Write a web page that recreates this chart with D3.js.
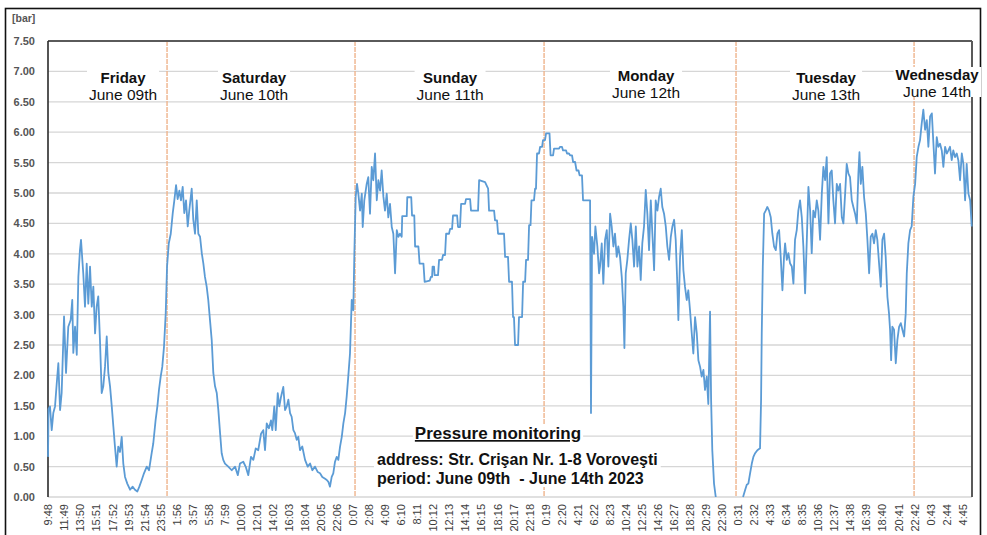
<!DOCTYPE html>
<html>
<head>
<meta charset="utf-8">
<script src="https://cdn.jsdelivr.net/npm/d3@7"></script>
<style>
  body { margin: 0; background: #fff; }
  svg { display: block; }
  text { font-family: "Liberation Sans", Arial, sans-serif; }
</style>
</head>
<body>
<svg id="chart" width="987" height="535"></svg>
<script>
// Time-axis labels, one every 121 minutes starting 9:48 on June 9th
const timeLabels = [
  "9:48","11:49","13:50","15:51","17:52","19:53","21:54","23:55","1:56","3:57",
  "5:58","7:59","10:00","12:01","14:02","16:03","18:04","20:05","22:06","0:07",
  "2:08","4:09","6:10","8:11","10:12","12:13","14:14","16:15","18:16","20:17",
  "22:18","0:19","2:20","4:21","6:22","8:23","10:24","12:25","14:26","16:27",
  "18:28","20:29","22:30","0:31","2:32","4:33","6:34","8:35","10:36","12:37",
  "14:38","16:39","18:40","20:41","22:42","0:43","2:44","4:45"
];
const labelStepMin = 121;
const spanMin = 6970;

// Pressure readings: [minutes since 9:48 June 9th, pressure in bar]; null = no reading
const readings = [
  [0,0.66],[4,1.45],[15,1.49],[28,1.10],[40,1.38],[53,1.49],[66,1.87],[78,2.20],[91,1.43],[103,1.71],
  [121,2.97],[136,2.04],[153,2.80],[171,2.91],[183,3.24],[191,2.37],[204,2.80],[217,2.34],[229,3.62],[241,4.06],
  [249,4.23],[259,3.90],[266,3.68],[279,3.13],[292,3.84],[304,3.18],[317,3.79],[330,3.13],[342,3.46],[355,2.69],
  [367,3.13],[379,3.30],[392,2.58],[405,1.71],[417,1.82],[430,2.14],[443,2.64],[455,2.04],[468,1.82],[481,1.49],
  [493,1.16],[505,0.83],[518,0.50],[530,0.83],[543,0.74],[556,0.99],[568,0.55],[581,0.33],[598,0.22],[619,0.12],
  [639,0.17],[656,0.12],[674,0.09],[689,0.17],[707,0.28],[724,0.39],[745,0.50],[762,0.44],[782,0.72],[794,0.88],
  [812,1.27],[825,1.49],[837,1.76],[850,1.98],[862,2.14],[875,2.47],[888,3.02],[898,3.79],[911,4.17],[926,4.33],
  [941,4.67],[953,4.88],[966,5.13],[978,4.90],[991,5.04],[1003,4.88],[1016,5.10],[1028,4.67],[1041,4.88],[1054,4.45],
  [1066,4.72],[1084,5.07],[1096,4.56],[1109,4.33],[1122,4.88],[1134,4.33],[1147,4.28],[1160,4.01],[1172,3.84],[1184,3.62],
  [1197,3.46],[1209,3.24],[1222,2.91],[1235,2.58],[1247,2.04],[1260,1.82],[1273,1.71],[1285,1.43],[1298,1.05],[1310,0.72],
  [1322,0.61],[1335,0.55],[1360,0.50],[1386,0.44],[1411,0.50],[1432,0.36],[1448,0.55],[1473,0.58],[1491,0.50],[1511,0.36],
  [1531,0.66],[1549,0.61],[1567,0.80],[1586,0.77],[1607,1.04],[1624,1.10],[1637,0.77],[1650,1.21],[1667,1.13],[1682,1.26],
  [1692,1.10],[1707,1.49],[1718,1.10],[1733,1.71],[1745,1.49],[1758,1.65],[1775,1.81],[1788,1.43],[1801,1.49],[1813,1.60],
  [1826,1.38],[1838,1.32],[1851,1.10],[1863,1.05],[1876,0.94],[1888,0.99],[1901,0.77],[1918,0.83],[1939,0.61],[1959,0.50],
  [1977,0.55],[1994,0.44],[2014,0.50],[2035,0.41],[2052,0.39],[2069,0.33],[2090,0.30],[2103,0.28],[2115,0.25],[2127,0.17],
  [2140,0.33],[2152,0.39],[2165,0.58],[2178,0.66],[2190,0.61],[2203,0.83],[2216,0.99],[2228,1.21],[2241,1.38],[2253,1.65],
  [2265,1.98],[2278,2.36],[2291,3.24],[2303,3.07],[2311,4.01],[2321,4.94],[2331,5.15],[2341,4.99],[2354,4.71],[2367,4.99],
  [2374,4.44],[2386,4.88],[2404,5.15],[2416,5.26],[2429,4.66],[2442,5.43],[2454,5.21],[2467,5.65],[2480,4.88],[2492,5.21],
  [2505,5.04],[2517,5.37],[2530,4.94],[2542,4.71],[2555,4.99],[2567,4.60],[2580,4.82],[2593,4.44],[2605,4.33],[2618,3.68],
  [2631,4.39],[2643,4.28],[2655,4.33],[2668,4.28],[2672,4.62],[2706,4.62],[2710,4.93],[2740,4.93],[2746,4.63],[2763,4.63],
  [2769,4.12],[2794,4.12],[2803,3.84],[2832,3.84],[2841,3.54],[2880,3.56],[2888,3.62],[2897,3.62],[2901,3.79],[2912,3.79],
  [2916,3.65],[2942,3.65],[2950,3.90],[2972,3.90],[2980,3.98],[2995,3.98],[3003,4.33],[3025,4.33],[3033,4.41],[3048,4.41],
  [3055,4.63],[3086,4.63],[3093,4.44],[3108,4.44],[3116,4.82],[3146,4.82],[3153,4.90],[3184,4.90],[3191,4.71],[3244,4.71],
  [3252,5.21],[3297,5.18],[3320,5.07],[3327,4.71],[3365,4.71],[3372,4.55],[3387,4.55],[3395,4.33],[3440,4.33],[3448,3.95],
  [3470,3.95],[3478,3.54],[3500,3.54],[3508,2.96],[3515,2.96],[3523,2.50],[3546,2.50],[3553,2.96],[3576,2.96],[3584,3.54],
  [3599,3.54],[3606,3.90],[3621,3.90],[3629,4.47],[3640,4.47],[3647,4.88],[3666,4.88],[3674,5.07],[3681,5.07],[3689,5.65],
  [3704,5.65],[3712,5.76],[3727,5.76],[3734,5.87],[3749,5.87],[3757,5.98],[3783,5.98],[3791,5.62],[3810,5.62],[3817,5.73],
  [3855,5.73],[3862,5.76],[3877,5.76],[3885,5.70],[3908,5.70],[3915,5.65],[3930,5.65],[3938,5.62],[3953,5.62],[3961,5.51],
  [3976,5.51],[3987,5.37],[4002,5.37],[4010,5.29],[4028,5.29],[4036,4.88],[4089,4.88],[4096,1.38],[4104,4.28],[4119,4.00],
  [4129,4.45],[4144,4.12],[4157,3.68],[4164,3.79],[4177,4.17],[4189,3.51],[4202,4.23],[4215,4.39],[4227,3.79],[4240,4.66],
  [4252,4.45],[4265,4.12],[4277,4.33],[4290,3.95],[4302,4.12],[4315,3.95],[4328,3.62],[4340,3.13],[4348,2.45],[4358,3.68],
  [4370,3.90],[4383,4.23],[4396,4.50],[4408,4.23],[4421,3.79],[4434,4.45],[4446,3.79],[4459,4.12],[4471,3.57],[4483,4.17],
  [4496,4.45],[4509,5.05],[4521,4.66],[4534,4.06],[4547,4.88],[4559,4.33],[4572,3.73],[4584,4.88],[4597,4.71],[4609,4.93],
  [4622,5.07],[4634,4.77],[4647,4.66],[4660,4.45],[4672,4.12],[4685,3.90],[4698,4.28],[4710,4.45],[4723,4.56],[4735,4.23],
  [4747,3.51],[4755,2.91],[4768,3.95],[4781,4.39],[4793,3.73],[4805,3.46],[4818,3.24],[4830,3.40],[4843,3.07],[4856,2.69],
  [4868,2.36],[4881,2.96],[4894,2.69],[4906,2.25],[4919,2.14],[4931,1.98],[4944,2.09],[4956,1.76],[4969,1.98],[4981,1.53],
  [4994,3.05],[5002,1.60],[5011,0.77],[5024,0.22],[5037,0.00],[5140,null],[5243,0.00],[5258,0.11],[5271,0.20],[5283,0.22],
  [5296,0.39],[5309,0.55],[5321,0.66],[5334,0.72],[5351,0.77],[5371,0.80],[5379,1.60],[5384,2.69],[5392,3.79],[5402,4.66],
  [5414,4.71],[5426,4.77],[5439,4.71],[5452,4.60],[5464,4.33],[5477,4.12],[5490,4.06],[5502,4.33],[5515,4.39],[5527,3.95],
  [5540,3.40],[5552,3.95],[5560,4.17],[5573,3.90],[5585,4.01],[5598,3.84],[5611,3.79],[5623,3.51],[5635,4.23],[5648,4.39],
  [5660,4.71],[5673,4.88],[5686,4.60],[5698,4.12],[5711,3.35],[5724,4.23],[5736,5.10],[5749,4.71],[5761,4.01],[5773,4.71],
  [5786,4.60],[5799,4.88],[5811,4.71],[5824,4.23],[5837,4.99],[5849,5.43],[5862,5.21],[5874,5.59],[5887,4.50],[5899,5.32],
  [5912,5.37],[5924,4.88],[5937,4.50],[5950,5.15],[5962,5.04],[5975,5.15],[5988,4.60],[6000,4.50],[6013,4.99],[6025,5.48],
  [6038,5.32],[6050,5.26],[6063,4.88],[6075,4.77],[6088,4.66],[6101,4.50],[6113,5.32],[6121,5.67],[6131,5.15],[6143,5.43],
  [6156,4.93],[6169,4.66],[6181,4.23],[6194,3.68],[6206,4.28],[6219,4.33],[6231,4.17],[6244,4.39],[6256,4.23],[6269,3.84],
  [6282,3.46],[6294,4.23],[6307,4.33],[6319,3.95],[6332,3.29],[6344,3.02],[6352,2.75],[6360,2.25],[6369,2.80],[6382,2.75],
  [6395,2.20],[6407,2.58],[6420,2.80],[6433,2.86],[6445,2.75],[6458,2.64],[6470,3.02],[6478,3.68],[6490,4.17],[6503,4.39],
  [6515,4.45],[6528,4.94],[6541,5.15],[6553,5.59],[6566,5.76],[6578,5.87],[6591,6.15],[6603,6.37],[6616,6.04],[6629,6.20],
  [6641,5.76],[6654,6.26],[6667,6.31],[6679,5.81],[6691,5.32],[6704,5.92],[6716,5.76],[6729,5.81],[6742,5.70],[6754,5.43],
  [6767,5.76],[6780,5.65],[6792,5.70],[6804,5.76],[6817,5.54],[6829,5.70],[6842,5.59],[6855,5.65],[6867,5.54],[6880,5.21],
  [6893,5.65],[6905,5.48],[6918,4.88],[6930,5.48],[6943,4.99],[6956,4.88],[6968,4.45]
];

// Day separators (minutes since start) and day captions
const dayBreaksMin = [898, 2316, 3742, 5190, 6533];
const dayNames = ["Friday", "Saturday", "Sunday", "Monday", "Tuesday", "Wednesday"];
const dayDates = ["June 09th", "June 10th", "June 11th", "June 12th", "June 13th", "June 14th"];
const dayCaptionMin = [566, 1554, 3033, 4511, 5869, 6707];

const yTicks = [0, 0.5, 1, 1.5, 2, 2.5, 3, 3.5, 4, 4.5, 5, 5.5, 6, 6.5, 7, 7.5];
const yMax = 7.5;

const titleText = "Pressure monitoring";
const addressText = "address: Str. Crişan Nr. 1-8 Voroveşti";
const periodText = "period: June 09th  - June 14th 2023";

// ---- layout ----
const plot = { left: 48, right: 972, top: 41, bottom: 497 };
const svg = d3.select("#chart");

const x = d3.scaleLinear().domain([0, spanMin]).range([plot.left, plot.right]);
const y = d3.scaleLinear().domain([0, yMax]).range([plot.bottom, plot.top]);

// outer frame
svg.append("rect")
  .attr("x", 5.5).attr("y", 8.5).attr("width", 975).attr("height", 540)
  .attr("fill", "#fff").attr("stroke", "#111").attr("stroke-width", 1.6);

// horizontal gridlines
svg.append("g").selectAll("line")
  .data(yTicks.filter(v => v < yMax))
  .join("line")
  .attr("x1", plot.left).attr("x2", plot.right)
  .attr("y1", d => y(d)).attr("y2", d => y(d))
  .attr("stroke", "#d6d6d6").attr("stroke-width", 1.3);

// day separators
svg.append("g").selectAll("line")
  .data(dayBreaksMin)
  .join("line")
  .attr("x1", d => x(d)).attr("x2", d => x(d))
  .attr("y1", plot.top).attr("y2", plot.bottom)
  .attr("stroke", "#efb48c").attr("stroke-width", 1.4)
  .attr("stroke-dasharray", "5 1");

// plot border: dark top, left and right edges
svg.append("line").attr("x1", plot.left).attr("x2", plot.right)
  .attr("y1", plot.top).attr("y2", plot.top)
  .attr("stroke", "#5a5a5a").attr("stroke-width", 2);
svg.append("line").attr("x1", plot.right).attr("x2", plot.right)
  .attr("y1", plot.top).attr("y2", plot.bottom)
  .attr("stroke", "#5a5a5a").attr("stroke-width", 2);
svg.append("line").attr("x1", plot.left).attr("x2", plot.left)
  .attr("y1", plot.top).attr("y2", plot.bottom)
  .attr("stroke", "#2a2a2a").attr("stroke-width", 1.6);

// y axis labels
const yAxis = svg.append("g")
  .attr("transform", `translate(${plot.left},0)`)
  .call(d3.axisLeft(y).tickValues(yTicks).tickFormat(d3.format(".2f")).tickSize(0).tickPadding(13));
yAxis.select(".domain").remove();
yAxis.selectAll("text")
  .attr("fill", "#555").attr("font-size", 11).attr("font-weight", "bold")
  .style("font-family", '"Liberation Sans", Arial, sans-serif');

svg.append("text").attr("x", 12).attr("y", 22)
  .attr("font-size", 10.5).attr("font-weight", "bold").attr("fill", "#555")
  .text("[bar]");

// x axis labels, rotated
const xAxis = svg.append("g")
  .attr("transform", `translate(0,${plot.bottom})`)
  .call(d3.axisBottom(x)
    .tickValues(timeLabels.map((_, i) => i * labelStepMin))
    .tickFormat((d, i) => timeLabels[i])
    .tickSize(0));
xAxis.select(".domain").remove();
xAxis.selectAll("text")
  .attr("transform", "rotate(-90)")
  .attr("text-anchor", "end")
  .attr("x", -7).attr("y", 0).attr("dy", "0.35em")
  .attr("fill", "#3c3c3c").attr("font-size", 11)
  .style("font-family", '"Liberation Sans", Arial, sans-serif');

// day captions on white boxes
const capLift = [0, 0, 0, 2, 0, 3];
const caps = svg.append("g");
dayNames.forEach((name, i) => {
  const g = caps.append("g");
  const cx = x(dayCaptionMin[i]);
  const t1 = g.append("text").attr("x", cx).attr("y", 83 - capLift[i])
    .attr("text-anchor", "middle").attr("font-size", 15).attr("font-weight", "bold")
    .attr("fill", "#111").text(name);
  const t2 = g.append("text").attr("x", cx).attr("y", 100 - capLift[i])
    .attr("text-anchor", "middle").attr("font-size", 15.5)
    .attr("fill", "#111").text(dayDates[i]);
  const b1 = t1.node().getBBox(), b2 = t2.node().getBBox();
  const x0 = Math.min(b1.x, b2.x) - 2, x1 = Math.max(b1.x + b1.width, b2.x + b2.width) + 2;
  g.insert("rect", "text")
    .attr("x", x0).attr("y", b1.y + 1).attr("width", x1 - x0)
    .attr("height", (b2.y + b2.height - 3) - (b1.y + 1))
    .attr("fill", "#fff");
});

// annotation block
const note = svg.append("g");
const tTitle = note.append("text").attr("x", 498).attr("y", 439)
  .attr("text-anchor", "middle").attr("font-size", 17).attr("font-weight", "bold")
  .attr("fill", "#111").attr("text-decoration", "underline").text(titleText);
note.append("text").attr("x", 377).attr("y", 465)
  .attr("font-size", 16).attr("font-weight", "bold").attr("fill", "#111").text(addressText);
note.append("text").attr("x", 377).attr("y", 484)
  .attr("font-size", 16).attr("font-weight", "bold").attr("fill", "#111")
  .style("white-space", "pre").text(periodText);
const nb = note.node().getBBox();
const tb = tTitle.node().getBBox();
note.insert("rect", "text")
  .attr("x", tb.x - 2).attr("y", tb.y).attr("width", tb.width + 4).attr("height", tb.height + 2)
  .attr("fill", "#fff");
note.insert("rect", "text")
  .attr("x", nb.x - 3).attr("y", tb.y + tb.height + 2).attr("width", nb.width + 6)
  .attr("height", nb.y + nb.height - (tb.y + tb.height + 2))
  .attr("fill", "#fff");

// pressure line
const line = d3.line()
  .defined(d => d[1] !== null)
  .x(d => x(d[0]))
  .y(d => y(d[1]));
svg.append("path")
  .datum(readings)
  .attr("fill", "none")
  .attr("stroke", "#5b9bd5")
  .attr("stroke-width", 1.8)
  .attr("stroke-linejoin", "round")
  .attr("d", line);
</script>
</body>
</html>
